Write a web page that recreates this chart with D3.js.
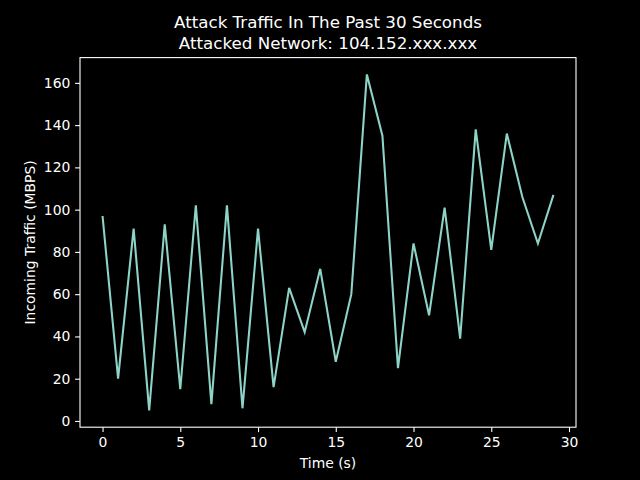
<!DOCTYPE html>
<html>
<head>
<meta charset="utf-8">
<script src="https://cdn.jsdelivr.net/npm/d3@7"></script>
<style>
  html, body { margin: 0; padding: 0; background: #000; }
  svg { display: block; font-family: "DejaVu Sans", sans-serif; }
</style>
</head>
<body>
<div id="chart"></div>
<script>
// seconds 0..29 and traffic readings (MBPS)
const seconds = d3.range(30);
const traffic = [97, 20, 91, 5, 93, 15, 102, 8, 102, 6,
                 91, 16, 63, 42, 72, 28, 60, 164, 135, 25,
                 84, 50, 101, 39, 138, 81, 136, 106, 84, 107];
const xTicks = [0, 5, 10, 15, 20, 25, 30];
const yTicks = [0, 20, 40, 60, 80, 100, 120, 140, 160];
const titleLines = ["Attack Traffic In The Past 30 Seconds", "Attacked Network: 104.152.xxx.xxx"];

const width = 640, height = 480;
const margin = { left: 80, right: 64, top: 57.6, bottom: 52.8 };

const svg = d3.select("#chart").append("svg")
  .attr("width", width)
  .attr("height", height);

svg.append("rect").attr("width", width).attr("height", height).attr("fill", "#000");

// matplotlib-ish 5% padding on both axes
const xExt = d3.extent(seconds), yExt = d3.extent(traffic);
const xPad = (xExt[1] - xExt[0]) * 0.05, yPad = (yExt[1] - yExt[0]) * 0.05;

const x = d3.scaleLinear()
  .domain([xExt[0] - xPad, xExt[1] + xPad])
  .range([margin.left, width - margin.right]);
const y = d3.scaleLinear()
  .domain([yExt[0] - yPad, yExt[1] + yPad])
  .range([height - margin.bottom, margin.top]);

// the line
svg.append("path")
  .datum(seconds.map((s, i) => [s, traffic[i]]))
  .attr("fill", "none")
  .attr("stroke", "#8dd3c7")
  .attr("stroke-width", 2.08)
  .attr("stroke-linejoin", "miter")
  .attr("d", d3.line().x(d => x(d[0])).y(d => y(d[1])));

// axes
const xAxis = svg.append("g")
  .attr("transform", `translate(0,${height - margin.bottom})`)
  .call(d3.axisBottom(x).tickValues(xTicks).tickSize(4.9).tickPadding(4.8).tickSizeOuter(0));
const yAxis = svg.append("g")
  .attr("transform", `translate(${margin.left},0)`)
  .call(d3.axisLeft(y).tickValues(yTicks).tickSize(4.9).tickPadding(4.8).tickSizeOuter(0));

[xAxis, yAxis].forEach(g => {
  g.select(".domain").remove();
  g.selectAll("line").attr("stroke", "#fff").attr("stroke-width", 1.1);
  g.selectAll("text").attr("fill", "#fff").attr("font-size", "13.9px")
    .attr("font-family", "DejaVu Sans, sans-serif");
});

// frame (spines)
svg.append("rect")
  .attr("x", margin.left)
  .attr("y", margin.top)
  .attr("width", width - margin.left - margin.right)
  .attr("height", height - margin.top - margin.bottom)
  .attr("fill", "none")
  .attr("stroke", "#fff")
  .attr("stroke-width", 1.1);

// axis labels
svg.append("text")
  .attr("x", (margin.left + width - margin.right) / 2)
  .attr("y", 467.7)
  .attr("text-anchor", "middle")
  .attr("fill", "#fff")
  .attr("font-size", "13.9px")
  .text("Time (s)");

svg.append("text")
  .attr("transform", `translate(35,${(margin.top + height - margin.bottom) / 2}) rotate(-90)`)
  .attr("text-anchor", "middle")
  .attr("fill", "#fff")
  .attr("font-size", "13.9px")
  .text("Incoming Traffic (MBPS)");

// title
svg.append("g").selectAll("text")
  .data(titleLines)
  .join("text")
  .attr("x", (margin.left + width - margin.right) / 2)
  .attr("y", (d, i) => 28 + i * 21)
  .attr("text-anchor", "middle")
  .attr("fill", "#fff")
  .attr("font-size", "16.7px")
  .text(d => d);
</script>
</body>
</html>
